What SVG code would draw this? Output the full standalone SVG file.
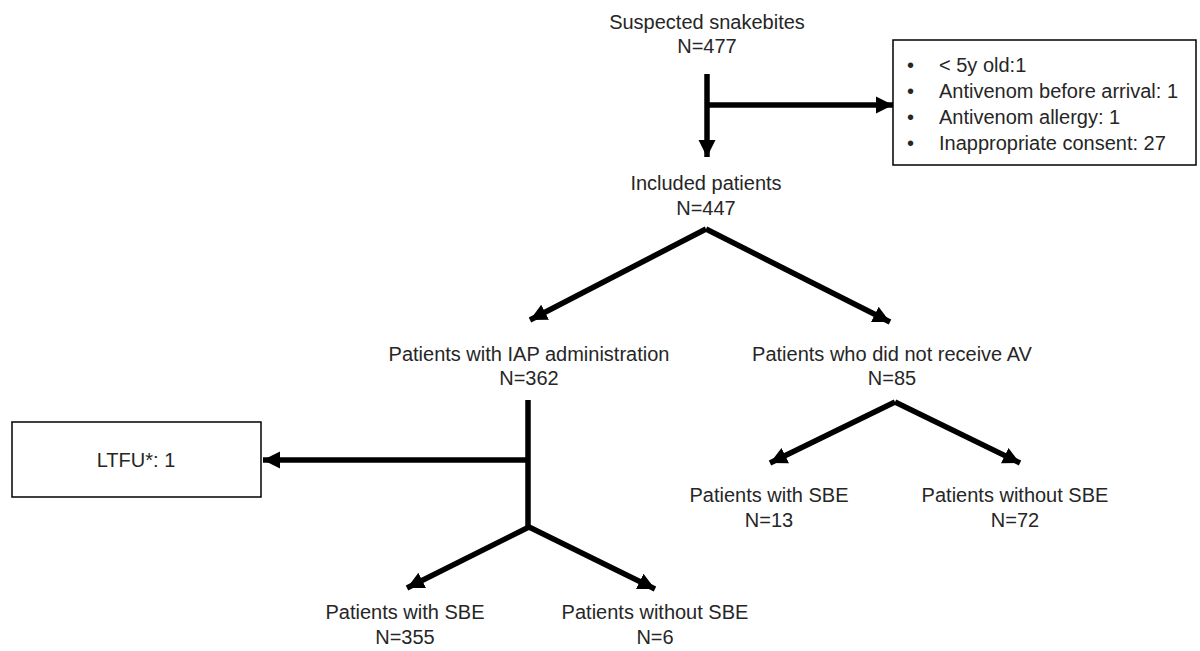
<svg xmlns="http://www.w3.org/2000/svg" width="1200" height="651" viewBox="0 0 1200 651">
<style>
text{font-family:"Liberation Sans",Arial,sans-serif;font-size:20px;fill:#262626}
.c{text-anchor:middle}
.box{fill:#fff;stroke:#000;stroke-width:1.5}
.ln{fill:none;stroke:#000;stroke-width:5.5}
</style>
<defs>
<marker id="ah" markerUnits="userSpaceOnUse" markerWidth="20" markerHeight="20" viewBox="0 0 20 20" refX="17" refY="10" orient="auto">
<path d="M0,1.5 L17,10 L0,18.5 z" fill="#000"/>
</marker>
</defs>
<rect width="1200" height="651" fill="#fff"/>
<g id="connectors">
<line class="ln" x1="707" y1="74" x2="707" y2="157" marker-end="url(#ah)"/>
<line class="ln" x1="707" y1="105" x2="893" y2="105" marker-end="url(#ah)"/>
<line class="ln" x1="706" y1="229" x2="530" y2="320" marker-end="url(#ah)"/>
<line class="ln" x1="706" y1="229" x2="890" y2="322" marker-end="url(#ah)"/>
<line class="ln" x1="528" y1="400" x2="528" y2="527"/>
<line class="ln" x1="528" y1="460" x2="263" y2="460" marker-end="url(#ah)"/>
<line class="ln" x1="529" y1="527" x2="407" y2="588" marker-end="url(#ah)"/>
<line class="ln" x1="529" y1="527" x2="655" y2="589" marker-end="url(#ah)"/>
<line class="ln" x1="895" y1="402" x2="770" y2="463" marker-end="url(#ah)"/>
<line class="ln" x1="895" y1="402" x2="1020" y2="463" marker-end="url(#ah)"/>
</g>
<g id="suspected"><text class="c" x="707" y="29">Suspected snakebites</text><text class="c" x="707" y="53">N=477</text></g>
<g id="excluded">
<rect class="box" x="893" y="40" width="303" height="125"/>
<text x="907" y="72">•</text><text x="939" y="72">&lt; 5y old:1</text>
<text x="907" y="98">•</text><text x="939" y="98">Antivenom before arrival: 1</text>
<text x="907" y="124">•</text><text x="939" y="124">Antivenom allergy: 1</text>
<text x="907" y="150">•</text><text x="939" y="150">Inappropriate consent: 27</text>
</g>
<g id="included"><text class="c" x="706" y="190">Included patients</text><text class="c" x="706" y="215">N=447</text></g>
<g id="iap"><text class="c" x="529" y="361">Patients with IAP administration</text><text class="c" x="529" y="385">N=362</text></g>
<g id="noav"><text class="c" x="892" y="361">Patients who did not receive AV</text><text class="c" x="892" y="385">N=85</text></g>
<g id="ltfu"><rect class="box" x="12" y="422" width="249" height="75"/><text class="c" x="136" y="467">LTFU*: 1</text></g>
<g id="iap-sbe"><text class="c" x="405" y="619">Patients with SBE</text><text class="c" x="405" y="644">N=355</text></g>
<g id="iap-nosbe"><text class="c" x="655" y="619">Patients without SBE</text><text class="c" x="655" y="644">N=6</text></g>
<g id="noav-sbe"><text class="c" x="769" y="502">Patients with SBE</text><text class="c" x="769" y="527">N=13</text></g>
<g id="noav-nosbe"><text class="c" x="1015" y="502">Patients without SBE</text><text class="c" x="1015" y="527">N=72</text></g>
</svg>
